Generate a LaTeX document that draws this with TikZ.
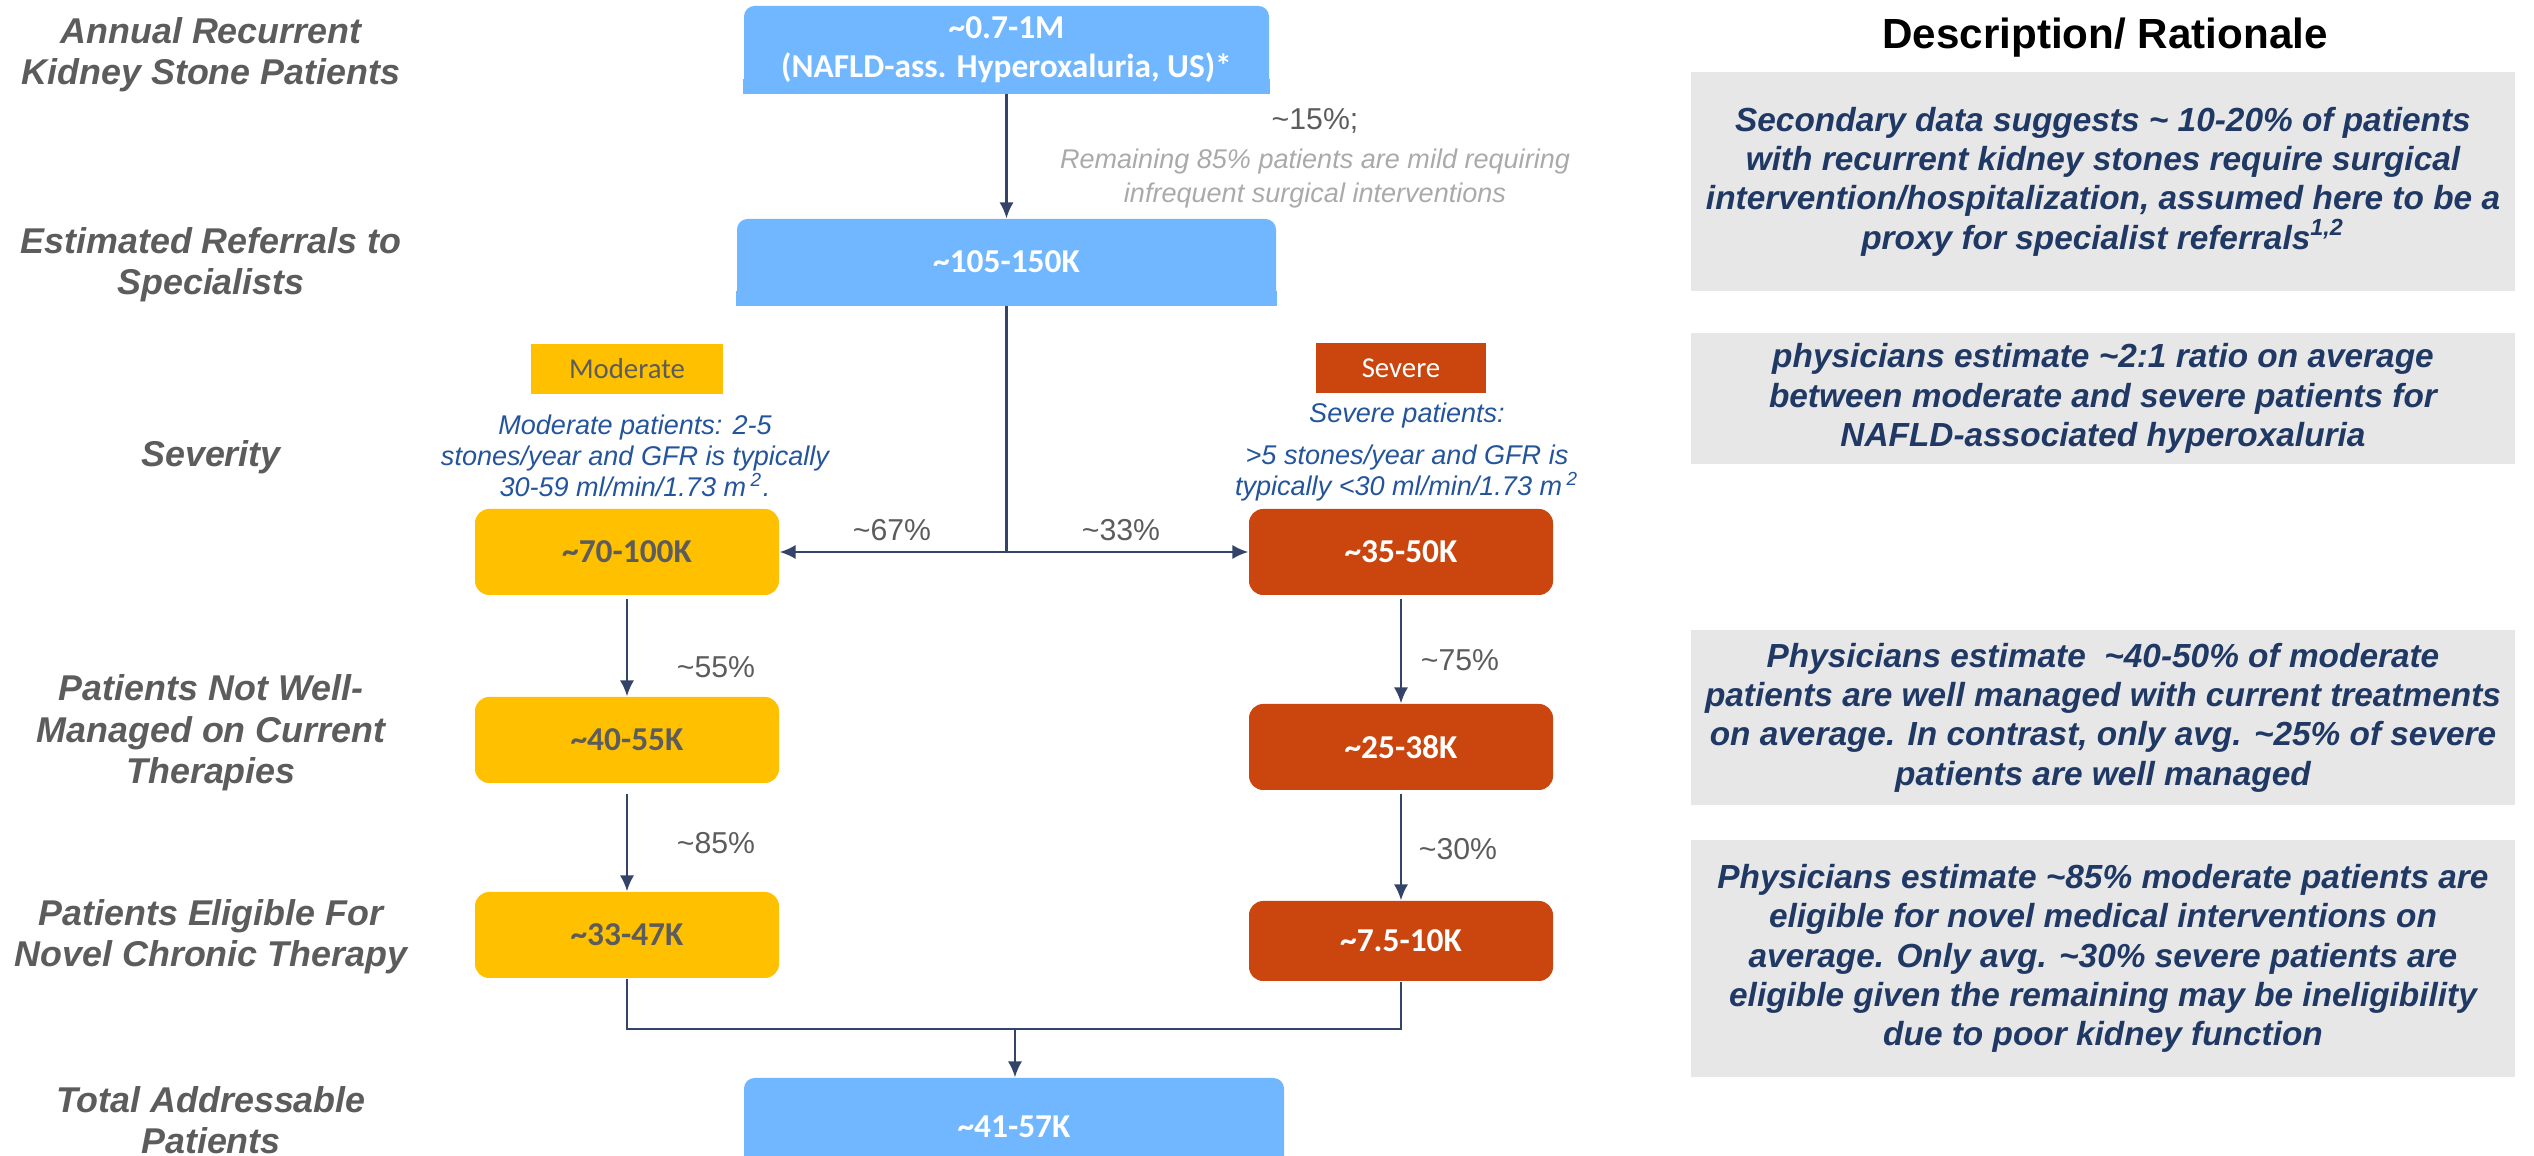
\documentclass[tikz,border=0pt]{standalone}
\usepackage{fontspec}
\setmainfont{Liberation Sans}
\newfontfamily\calibri{Carlito}
\usetikzlibrary{arrows.meta,backgrounds}
\definecolor{skyblue}{RGB}{112,183,255}
\definecolor{gold}{RGB}{255,192,0}
\definecolor{rust}{RGB}{203,69,15}
\definecolor{slate}{RGB}{92,92,92}
\definecolor{navy}{RGB}{31,56,100}
\definecolor{linkblue}{RGB}{36,84,155}
\definecolor{mist}{RGB}{170,170,170}
\definecolor{panel}{RGB}{231,231,232}
\definecolor{wire}{RGB}{52,68,104}

\begin{document}
\begin{tikzpicture}[
    numbox/.style={rounded corners=4pt, minimum width=3.04cm, minimum height=0.86cm, inner sep=0pt,
      align=center, font=\calibri\bfseries\fontsize{9.5}{11.1}\selectfont},
    bluebox/.style={numbox, fill=skyblue, text=white, rounded corners=3pt},
    modbox/.style={numbox, fill=gold, text=slate},
    sevbox/.style={numbox, fill=rust, text=white},
    tagbox/.style={minimum height=0.5cm, inner sep=0pt, font=\calibri\fontsize{8.2}{10}\selectfont},
    rowlabel/.style={align=center, text=slate, font=\bfseries\itshape\fontsize{10.2}{11.8}\selectfont},
    rationale/.style={align=center, text=navy, fill=panel, minimum width=8.24cm, inner sep=0pt,
      font=\bfseries\itshape\fontsize{9.5}{11.2}\selectfont},
    pct/.style={text=slate, font=\fontsize{8.6}{10}\selectfont},
    crit/.style={align=center, text=linkblue, font=\itshape\fontsize{7.7}{8.8}\selectfont},
    flow/.style={wire, line width=0.6pt, -{Latex[length=4.5pt,width=4pt]}},
  ]
    \useasboundingbox (0,0) rectangle (25.34,-11.56);

    % Row labels
    \foreach \y/\t [count=\i] in {0.545/{Annual Recurrent\\Kidney Stone Patients},
        2.65/{Estimated Referrals to\\Specialists}, 4.57/{Severity},
        7.33/{Patients Not Well-\\Managed on Current\\Therapies},
        9.37/{Patients Eligible For\\Novel Chronic Therapy},
        11.20/{Total Addressable\\Patients}}
      \node[rowlabel] (row\i) at (2.11,-\y) {\t};

    % Funnel
    \node[bluebox, minimum width=5.25cm, minimum height=0.87cm] (pool) at (10.065,-0.495)
      {\textasciitilde 0.7-1M\\(NAFLD-ass. Hyperoxaluria, US)*};
    \node[bluebox, minimum width=5.39cm] (referrals) at (10.065,-2.62) {\textasciitilde 105-150K};
    \node[pct] (drop) at (13.15,-1.21) {\textasciitilde 15\%;};
    \node[align=center, text=mist, font=\itshape\fontsize{7.7}{9.4}\selectfont] (dropnote) at (13.15,-1.785)
      {Remaining 85\% patients are mild requiring\\infrequent surgical interventions};

    \node[tagbox, fill=gold, text=slate, minimum width=1.92cm] (modtag) at (6.27,-3.69) {Moderate};
    \node[tagbox, fill=rust, text=white, minimum width=1.70cm] (sevtag) at (14.01,-3.68) {Severe};
    \node[crit] (modcrit) at (6.35,-4.56)
      {Moderate patients: 2-5\\stones/year and GFR is typically\\30-59 ml/min/1.73 m\,\textsuperscript{2}.};
    \node[crit] (sevcrit) at (14.07,-4.52)
      {Severe patients:\\[3pt]>5 stones/year and GFR is\\typically <30 ml/min/1.73 m\,\textsuperscript{2}};

    \node[modbox] (mod1) at (6.27,-5.52) {\textasciitilde 70-100K};
    \node[sevbox] (sev1) at (14.01,-5.52) {\textasciitilde 35-50K};
    \node[modbox] (mod2) at (6.27,-7.40) {\textasciitilde 40-55K};
    \node[sevbox] (sev2) at (14.01,-7.47) {\textasciitilde 25-38K};
    \node[modbox] (mod3) at (6.27,-9.35) {\textasciitilde 33-47K};
    \node[sevbox, minimum height=0.8cm] (sev3) at (14.01,-9.41) {\textasciitilde 7.5-10K};
    \node[bluebox, minimum width=5.40cm, minimum height=0.98cm] (total) at (10.14,-11.27) {\textasciitilde 41-57K};

    \begin{scope}[on background layer]
      \foreach \n in {pool,referrals}
        \fill[skyblue] (\n.south west) rectangle ([yshift=0.15cm]\n.south east);
    \end{scope}

    % Shares
    \foreach \x/\y/\p [count=\i] in {8.92/5.30/67, 11.21/5.30/33, 7.16/6.67/55,
        7.16/8.43/85, 14.60/6.60/75, 14.58/8.49/30}
      \node[pct] (share\i) at (\x,-\y) {\textasciitilde\p\%};

    % Connectors
    \coordinate (split) at (10.065,-5.52);
    \coordinate (merge) at (10.15,-10.29);
    \draw[flow] (pool.south) -- (referrals.north);
    \draw[wire, line width=0.9pt] (referrals.south) -- (split);
    \draw[flow] (split) -- (split -| mod1.east);
    \draw[flow] (split) -- (split -| sev1.west);
    \draw[flow] ([yshift=-1pt]mod1.south) -- (mod2.north);
    \draw[flow] ([yshift=-3pt]mod2.south) -- (mod3.north);
    \draw[flow] ([yshift=-1pt]sev1.south) -- (sev2.north);
    \draw[flow] ([yshift=-1pt]sev2.south) -- (sev3.north);
    \draw[wire, line width=0.6pt] (mod3.south) |- (merge) -| (sev3.south);
    \draw[flow] (merge) -- (merge |- total.north);

    % Rationale column
    \node[font=\bfseries\fontsize{12}{14}\selectfont] (head) at (21.05,-0.38) {Description/ Rationale};
    \node[rationale, minimum height=2.19cm] (why1) at (21.03,-1.815)
      {Secondary data suggests \textasciitilde{} 10-20\% of patients\\with recurrent kidney stones require surgical\\
       intervention/hospitalization, assumed here to be a\\proxy for specialist referrals\textsuperscript{1,2}};
    \node[rationale, minimum height=1.31cm] (why2) at (21.03,-3.985)
      {physicians estimate \textasciitilde 2:1 ratio on average\\between moderate and severe patients for\\
       NAFLD-associated hyperoxaluria};
    \node[rationale, minimum height=1.75cm] (why3) at (21.03,-7.175)
      {Physicians estimate \ \textasciitilde 40-50\% of moderate\\patients are well managed with current treatments\\
       on average. In contrast, only avg. \textasciitilde 25\% of severe\\patients are well managed};
    \node[rationale, minimum height=2.37cm] (why4) at (21.03,-9.585)
      {Physicians estimate \textasciitilde 85\% moderate patients are\\eligible for novel medical interventions on\\
       average. Only avg. \textasciitilde 30\% severe patients are\\eligible given the remaining may be ineligibility\\
       due to poor kidney function};
\end{tikzpicture}
\end{document}
